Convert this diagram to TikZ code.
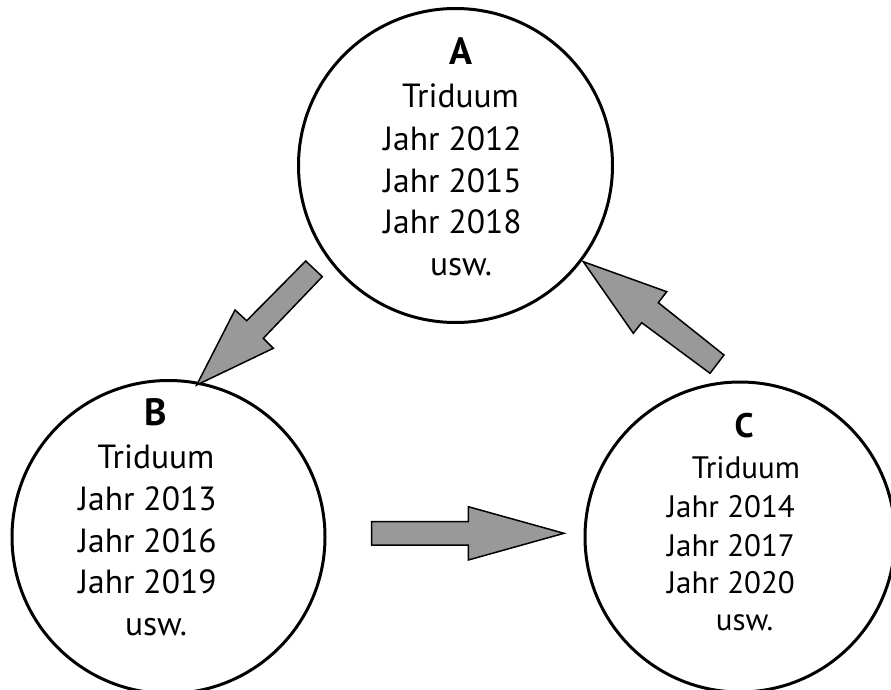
\documentclass[tikz,border=0pt]{standalone}
\usepackage{fontspec}
\setmainfont{PT Sans}
\definecolor{arrowgray}{RGB}{153,153,153}
\begin{document}
\begin{tikzpicture}[x=1pt,y=-1pt,
  ring/.style={circle,draw=black,line width=3pt,inner sep=0pt},
  blockarrow/.style={draw=black,fill=arrowgray,line width=1.5pt,line join=miter},
  big/.style={anchor=base,inner sep=0pt,font=\fontsize{33.5}{38}\selectfont},
  small/.style={anchor=base,inner sep=0pt,font=\fontsize{31}{36}\selectfont},
  bigb/.style={anchor=base,inner sep=0pt,font=\fontsize{38}{38}\selectfont\bfseries},
  smallb/.style={anchor=base,inner sep=0pt,font=\fontsize{34}{36}\selectfont\bfseries}]
\useasboundingbox (0,0) rectangle (891,690);
% circles
\node[ring,minimum size=314pt] (A) at (455.5,165.5) {};
\node[ring,minimum size=313pt] (B) at (168.5,537) {};
\node[ring,minimum size=310pt] (C) at (740,537) {};
% texts A
\node[bigb] (a0) at (460.5,65) {A};
\node[big] (a1) at (460.5,108) {Triduum};
\node[big] (a2) at (452.5,150) {Jahr 2012};
\node[big] (a3) at (452.5,192) {Jahr 2015};
\node[big] (a4) at (452.5,233) {Jahr 2018};
\node[big] (a5) at (461,275) {usw.};
% texts B
\node[bigb] (b0) at (156,425) {B};
\node[big] (b1) at (156,468) {Triduum};
\node[big] (b2) at (147.5,510) {Jahr 2013};
\node[big] (b3) at (147.5,552) {Jahr 2016};
\node[big] (b4) at (147.5,593) {Jahr 2019};
\node[big] (b5) at (156,635) {usw.};
% texts C
\node[smallb] (c0) at (744,437) {C};
\node[small] (c1) at (746,478) {Triduum};
\node[small] (c2) at (731,517) {Jahr 2014};
\node[small] (c3) at (731,556) {Jahr 2017};
\node[small] (c4) at (731,593) {Jahr 2020};
\node[small] (c5) at (744.5,630) {usw.};
% block arrows
\draw[blockarrow] (305.7,261) -- (322.3,276.7) -- (263.3,338.3) -- (273.3,348.3)
  -- (196.7,385) -- (235,310) -- (246.7,320.7) -- cycle;
\draw[blockarrow] (371.7,521.7) -- (468.3,521.7) -- (468.3,506.7) -- (564,533.3)
  -- (468.3,560) -- (468.3,545) -- (371.7,545) -- cycle;
\draw[blockarrow] (583.3,261.7) -- (666.7,291.7) -- (658.3,302.7) -- (724,355)
  -- (710,373.3) -- (641.7,322.7) -- (633.3,333.3) -- cycle;
\end{tikzpicture}
\end{document}
